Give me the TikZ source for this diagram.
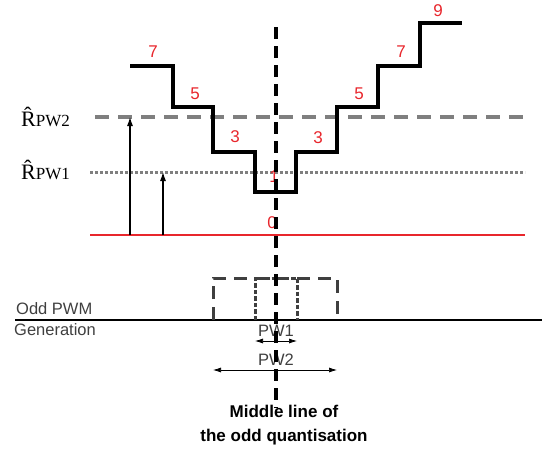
\documentclass[tikz,border=0pt]{standalone}
\usepackage{fontspec}
\setmainfont{Liberation Sans}
\newfontfamily\rfont{Liberation Serif}
\usetikzlibrary{arrows.meta}

\definecolor{lvlred}{HTML}{E8262C}
\definecolor{refgray}{HTML}{7F7F7F}
\definecolor{pulsegray}{HTML}{3F3F3F}

\tikzset{
  stair/.style={line width=3.4pt, line join=miter},
  lvl/.style={text=lvlred, font=\fontsize{17}{18}\selectfont, inner sep=0pt},
  midline/.style={line width=3.4pt, dash pattern=on 12pt off 7pt},
  refup/.style={-{Latex[length=9pt,width=6pt]}, line width=1.1pt},
  pwarrow/.style={{Latex[length=8pt,width=5pt]}-{Latex[length=8pt,width=5pt]}, line width=0.7pt},
  txt/.style={font=\fontsize{16.5}{18}\selectfont, inner sep=0pt}
}

\begin{document}
\begin{tikzpicture}[x=1pt,y=-1pt]
\useasboundingbox (0,0) rectangle (542,450);

% reference levels
\coordinate (R2l) at (95,117);  \coordinate (R2r) at (525,117);
\coordinate (R1l) at (90,172);  \coordinate (R1r) at (525,172);
\coordinate (Z0l) at (90,235);  \coordinate (Z0r) at (525,235);
\draw[refgray, line width=3.6pt, dash pattern=on 14pt off 9pt] (R2l) -- (R2r);
\draw[refgray, line width=3pt, dash pattern=on 3pt off 2pt] (R1l) -- (R1r);
\draw[lvlred, line width=2.6pt] (Z0l) -- (Z0r);

\node[anchor=east, inner sep=0pt, font=\rfont\fontsize{22}{24}\selectfont] (lR2) at (70,117) {\^{R}{\fontsize{17}{18}\selectfont PW2}};
\node[anchor=east, inner sep=0pt, font=\rfont\fontsize{22}{24}\selectfont] (lR1) at (70,170) {\^{R}{\fontsize{17}{18}\selectfont PW1}};

% quantised staircase
\draw[stair] (130,66) -- (173,66) -- (173,107) -- (213,107) -- (213,152) -- (255,152)
  -- (255,192) -- (296,192) -- (296,152) -- (337,152) -- (337,107) -- (378,107)
  -- (378,66) -- (420,66) -- (420,23) -- (462,23);

\node[lvl] (l7a) at (153,52) {7};
\node[lvl] (l5a) at (195,94) {5};
\node[lvl] (l3a) at (235,137) {3};
\node[lvl] (l1)  at (274,177) {1};
\node[lvl] (l0)  at (272,223) {0};
\node[lvl] (l3b) at (318,138) {3};
\node[lvl] (l5b) at (359,94) {5};
\node[lvl] (l7b) at (401,52) {7};
\node[lvl] (l9)  at (438,11) {9};

% reference heights
\coordinate (a2) at (130,235);
\coordinate (a1) at (163,235);
\draw[refup] (a2) -- (a2 |- R2l);
\draw[refup] (a1) -- (a1 |- R1l);

% PWM generation
\coordinate (gl) at (15,320);
\coordinate (gr) at (542,320);
\draw[line width=2.4pt] (gl) -- (gr);
\node[txt, anchor=south west, text=pulsegray] (odd) at (16,315) {Odd PWM};
\node[txt, anchor=north west, text=pulsegray] (gen) at (14,323) {Generation};

\draw[pulsegray, line width=3pt, dash pattern=on 13pt off 8pt] (213,320) -- (213,278) -- (337,278) -- (337,320);
\draw[pulsegray, line width=3pt, dash pattern=on 4.5pt off 2pt] (255,320) -- (255,278) -- (297,278) -- (297,320);

\node[txt, text=pulsegray] (pw1) at (276,331) {PW1};
\draw[pwarrow] (255,341) -- (297,341);
\node[txt, text=pulsegray] (pw2) at (276,360) {PW2};
\draw[pwarrow] (213,370) -- (337,370);

% middle line
\coordinate (mt) at (276,27);
\coordinate (mb) at (276,408);
\draw[midline] (mt) -- (mb);

\node[txt, font=\bfseries\fontsize{17}{18}\selectfont, anchor=north] (mid1) at (284,405) {Middle line of};
\node[txt, font=\bfseries\fontsize{17}{18}\selectfont, anchor=north] (mid2) at (284,429) {the odd quantisation};
\end{tikzpicture}
\end{document}
